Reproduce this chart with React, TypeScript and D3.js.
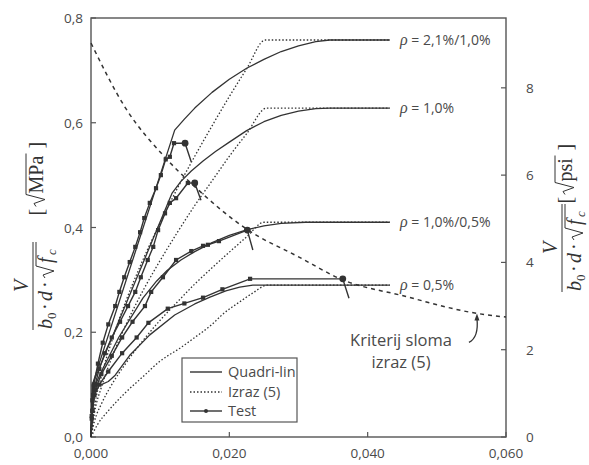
import React from "react";
import * as d3 from "d3";

type P = [number, number];

// ---------- axis ticks ----------
const xTickValues = [0, 0.02, 0.04, 0.06];
const xTickLabels = ["0,000", "0,020", "0,040", "0,060"];
const yTickValues = [0, 0.2, 0.4, 0.6, 0.8];
const yTickLabels = ["0,0", "0,2", "0,4", "0,6", "0,8"];
const yRightTickValues = [0, 2, 4, 6, 8];
const yRightTickLabels = ["0", "2", "4", "6", "8"];

// ---------- series labels ----------
const rhoLabels = ["ρ = 2,1%/1,0%", "ρ = 1,0%", "ρ = 1,0%/0,5%", "ρ = 0,5%"];
const plateauValues = [0.758, 0.628, 0.41, 0.29];

// ---------- Quadri-lin (solid) ----------
const quadA: P[] = [[0, 0], [0.0002, 0.1], [0.0121, 0.586], [0.0135, 0.607], [0.015, 0.628], [0.0175, 0.658], [0.02, 0.683], [0.0225, 0.704], [0.025, 0.721], [0.0275, 0.736], [0.03, 0.747], [0.0325, 0.755], [0.0345, 0.758], [0.0432, 0.758]];
const quadB: P[] = [[0, 0], [0.0002, 0.1], [0.0117, 0.465], [0.013, 0.488], [0.0145, 0.508], [0.0162, 0.527], [0.018, 0.545], [0.02, 0.563], [0.0225, 0.585], [0.025, 0.602], [0.0275, 0.614], [0.03, 0.622], [0.0325, 0.627], [0.0345, 0.628], [0.0432, 0.628]];
const quadC: P[] = [[0, 0], [0.0003, 0.09], [0.0015, 0.125], [0.004, 0.19], [0.0075, 0.265], [0.0095, 0.298], [0.011, 0.318], [0.013, 0.338], [0.015, 0.354], [0.0175, 0.371], [0.02, 0.385], [0.0226, 0.396], [0.025, 0.403], [0.0275, 0.408], [0.031, 0.41], [0.0432, 0.41]];
const quadD: P[] = [[0, 0], [0.0004, 0.085], [0.0008, 0.097], [0.0015, 0.1], [0.0025, 0.106], [0.0035, 0.118], [0.0056, 0.156], [0.0085, 0.195], [0.0121, 0.233], [0.015, 0.254], [0.0172, 0.267], [0.0195, 0.279], [0.0215, 0.286], [0.0234, 0.29], [0.0432, 0.29]];

// ---------- Izraz (5) (dotted) ----------
const izrazA: P[] = [[0, 0], [0.0005, 0.056], [0.0015, 0.116], [0.003, 0.183], [0.005, 0.258], [0.0075, 0.338], [0.01, 0.409], [0.0125, 0.475], [0.015, 0.536], [0.0175, 0.594], [0.02, 0.65], [0.0225, 0.703], [0.0252, 0.758], [0.0432, 0.758]];
const izrazB: P[] = [[0, 0], [0.0005, 0.046], [0.0015, 0.095], [0.003, 0.151], [0.005, 0.213], [0.0075, 0.279], [0.01, 0.337], [0.0125, 0.391], [0.015, 0.442], [0.0175, 0.489], [0.02, 0.536], [0.0225, 0.579], [0.0254, 0.628], [0.0432, 0.628]];
const izrazC: P[] = [[0, 0], [0.0005, 0.03], [0.0015, 0.063], [0.003, 0.1], [0.005, 0.14], [0.0075, 0.184], [0.01, 0.223], [0.0125, 0.258], [0.015, 0.292], [0.0175, 0.323], [0.02, 0.353], [0.0225, 0.382], [0.025, 0.41], [0.0432, 0.41]];
const izrazD: P[] = [[0, 0], [0.001, 0.025], [0.0025, 0.05], [0.005, 0.085], [0.0075, 0.115], [0.01, 0.145], [0.0129, 0.17], [0.015, 0.19], [0.0175, 0.215], [0.0191, 0.235], [0.0215, 0.258], [0.0234, 0.275], [0.0255, 0.29], [0.0432, 0.29]];

// ---------- Test (line + markers) ----------
const testA: P[] = [[0, 0], [0.0001, 0.035], [0.0002, 0.07], [0.0004, 0.1], [0.001, 0.14], [0.0017, 0.18], [0.0025, 0.215], [0.0035, 0.25], [0.0041, 0.277], [0.0048, 0.305], [0.0056, 0.334], [0.0064, 0.363], [0.0071, 0.391], [0.0077, 0.418], [0.0085, 0.447], [0.0094, 0.475], [0.0101, 0.5], [0.0108, 0.53], [0.0114, 0.535], [0.012, 0.561]];
const testB: P[] = [[0, 0], [0.0001, 0.04], [0.0003, 0.08], [0.0006, 0.1], [0.0012, 0.13], [0.002, 0.16], [0.003, 0.19], [0.0042, 0.22], [0.00535, 0.25], [0.0064, 0.277], [0.0072, 0.305], [0.0082, 0.338], [0.009, 0.363], [0.0097, 0.395], [0.0107, 0.427], [0.0114, 0.447], [0.0123, 0.456], [0.014, 0.485]];
const testC: P[] = [[0, 0], [0.0002, 0.05], [0.0006, 0.09], [0.0015, 0.12], [0.003, 0.155], [0.0045, 0.19], [0.006, 0.22], [0.0078, 0.25], [0.0087, 0.277], [0.0104, 0.305], [0.0123, 0.338], [0.0145, 0.355], [0.0162, 0.365], [0.0169, 0.367], [0.0185, 0.374]];
const testD: P[] = [[0, 0], [0.0002, 0.05], [0.0005, 0.08], [0.0012, 0.1], [0.0025, 0.125], [0.0045, 0.16], [0.0066, 0.19], [0.0083, 0.218], [0.0111, 0.245], [0.0135, 0.255], [0.0162, 0.266], [0.019, 0.282], [0.023, 0.302]];
const testPeaks: P[] = [[0.0136, 0.561], [0.015, 0.485], [0.0226, 0.395], [0.0364, 0.302]];
const testDrops: P[] = [[0.0145, 0.525], [0.0159, 0.452], [0.0234, 0.357], [0.0373, 0.265]];

// ---------- failure criterion (dashed) ----------
const criterion: P[] = [[0, 0.752], [0.005, 0.628], [0.0107, 0.534], [0.015, 0.478], [0.0226, 0.396], [0.03, 0.344], [0.0364, 0.3], [0.045, 0.27], [0.0558, 0.236], [0.06, 0.229]];
const criterionArrowAt: P = [0.0558, 0.236];

const W = 589;
const H = 465;
const INK = "#333";
const TXT = "#4a4a4a";
const SANS = "'Open Sans', 'Noto Sans', sans-serif";
const SERIF = "'Liberation Serif', 'DejaVu Serif', serif";

function Radical({ x0, x1, base, top }: { x0: number; x1: number; base: number; top: number }) {
  const d = `M${x0},${base - 7} L${x0 + 3},${base - 9} L${x0 + 7},${base + 2} L${x0 + 12},${top} L${x1},${top}`;
  return <path d={d} fill="none" stroke={INK} strokeWidth={1} />;
}

function AxisTitle({ tx, ty, fracC, brC, unit, unitW }: { tx: number; ty: number; fracC: number; brC: number; unit: string; unitW: number }) {
  const fs = 20;
  const s = fracC - 44;
  const total = 33 + unitW;
  const b0 = brC - total / 2;
  return (
    <g transform={`translate(${tx},${ty}) rotate(-90)`} fill={INK} fontFamily={SERIF}>
      <text x={fracC} y={-5} textAnchor="middle" fontStyle="italic" fontSize={fs}>V</text>
      <line x1={s} x2={s + 88} y1={0} y2={0} stroke={INK} strokeWidth={1} />
      <text x={s + 1} y={19} fontStyle="italic" fontSize={fs}>b</text>
      <text x={s + 11} y={23} fontSize={13}>0</text>
      <text x={s + 20} y={19} fontSize={fs}>·</text>
      <text x={s + 29} y={19} fontStyle="italic" fontSize={fs}>d</text>
      <text x={s + 42} y={19} fontSize={fs}>·</text>
      <Radical x0={s + 52} x1={s + 88} base={19} top={3} />
      <text x={s + 67} y={19} fontStyle="italic" fontSize={fs}>f</text>
      <text x={s + 75} y={23} fontStyle="italic" fontSize={13}>c</text>
      <text x={b0} y={10} fontSize={fs}>[</text>
      <Radical x0={b0 + 9} x1={b0 + 24 + unitW} base={10} top={-7} />
      <text x={b0 + 22} y={10} fontSize={fs}>{unit}</text>
      <text x={b0 + 29 + unitW} y={10} fontSize={fs}>]</text>
    </g>
  );
}

export default function App() {
  const x = d3.scaleLinear().domain([0, 0.06]).range([91, 506]);
  const y = d3.scaleLinear().domain([0, 0.8]).range([437, 18]);
  const yR = d3.scaleLinear().domain([0, 9.6]).range([437, 18]);

  const smooth = d3.line<P>().x((d) => x(d[0])).y((d) => y(d[1])).curve(d3.curveMonotoneX);
  const straight = d3.line<P>().x((d) => x(d[0])).y((d) => y(d[1]));

  const quads = [quadA, quadB, quadC, quadD];
  const izraz = [izrazA, izrazB, izrazC, izrazD];
  const tests = [testA, testB, testC, testD];

  const tip = [x(criterionArrowAt[0]), y(criterionArrowAt[1])];

  return (
    <svg width={W} height={H} style={{ position: "absolute", left: 0, top: 0, background: "#fff" }}>
      {/* frame */}
      <rect x={x(0)} y={y(0.8)} width={x(0.06) - x(0)} height={y(0) - y(0.8)} fill="none" stroke="#555" strokeWidth={1.4} />

      {/* ticks */}
      {xTickValues.map((v, i) => (
        <g key={"xt" + i}>
          <line x1={x(v)} x2={x(v)} y1={y(0)} y2={y(0) - 5} stroke="#555" strokeWidth={1.2} />
          <text x={x(v)} y={y(0) + 21} textAnchor="middle" fontFamily={SANS} fontSize={13.5} fill={TXT}>{xTickLabels[i]}</text>
        </g>
      ))}
      {yTickValues.map((v, i) => (
        <g key={"yt" + i}>
          <line x1={x(0)} x2={x(0) + 5} y1={y(v)} y2={y(v)} stroke="#555" strokeWidth={1.2} />
          <text x={x(0) - 8} y={y(v) + 5} textAnchor="end" fontFamily={SANS} fontSize={13.5} fill={TXT}>{yTickLabels[i]}</text>
        </g>
      ))}
      {yRightTickValues.map((v, i) => (
        <g key={"yr" + i}>
          <line x1={x(0.06)} x2={x(0.06) - 5} y1={yR(v)} y2={yR(v)} stroke="#555" strokeWidth={1.2} />
          <text x={x(0.06) + 20} y={yR(v) + 5} textAnchor="start" fontFamily={SANS} fontSize={13.5} fill={TXT}>{yRightTickLabels[i]}</text>
        </g>
      ))}

      {/* axis titles */}
      <AxisTitle tx={33} ty={228} fracC={-58} brC={48} unit="MPa" unitW={38} />
      <AxisTitle tx={562} ty={228} fracC={-20} brC={53} unit="psi" unitW={24} />

      {/* failure criterion */}
      <path d={smooth(criterion) || ""} fill="none" stroke={INK} strokeWidth={1.5} strokeDasharray="4,4" />

      {/* Izraz (5) */}
      {izraz.map((s, i) => (
        <path key={"iz" + i} d={smooth(s) || ""} fill="none" stroke={INK} strokeWidth={1.3} strokeDasharray="1.5,2" />
      ))}

      {/* Quadri-lin */}
      {quads.map((s, i) => (
        <path key={"q" + i} d={straight(s) || ""} fill="none" stroke={INK} strokeWidth={1.3} strokeLinejoin="round" />
      ))}

      {/* Test */}
      {tests.map((s, i) => {
        const pts = [...s, testPeaks[i], testDrops[i]];
        return (
          <g key={"t" + i}>
            <path d={straight(pts) || ""} fill="none" stroke={INK} strokeWidth={1.4} />
            {s.slice(1).map((p, j) => (
              <rect key={j} x={x(p[0]) - 2.1} y={y(p[1]) - 2.1} width={4.2} height={4.2} fill={INK} />
            ))}
            <circle cx={x(testPeaks[i][0])} cy={y(testPeaks[i][1])} r={3.4} fill={INK} />
          </g>
        );
      })}

      {/* rho labels */}
      {rhoLabels.map((t, i) => (
        <text key={"rl" + i} x={400} y={y(plateauValues[i]) + 5} fontFamily={SANS} fontSize={14} fill={TXT}>
          <tspan fontFamily={SERIF} fontStyle="italic" fontSize={16}>ρ</tspan>
          {t.slice(1)}
        </text>
      ))}

      {/* criterion annotation */}
      <text x={401} y={346} textAnchor="middle" fontFamily={SANS} fontSize={16.5} fill={TXT}>Kriterij sloma</text>
      <text x={401} y={368} textAnchor="middle" fontFamily={SANS} fontSize={16.5} fill={TXT}>izraz (5)</text>
      <path d={`M${tip[0] - 8},${tip[1] + 29} Q${tip[0] + 2},${tip[1] + 24} ${tip[0]},${tip[1] + 5}`} fill="none" stroke={INK} strokeWidth={1.3} />
      <path d={`M${tip[0]},${tip[1]} L${tip[0] - 2.5},${tip[1] + 7} L${tip[0] + 2.5},${tip[1] + 7} Z`} fill={INK} />

      {/* legend */}
      <rect x={182} y={358} width={115} height={64} fill="#fff" stroke="#555" strokeWidth={1.2} />
      <line x1={190} x2={222} y1={372} y2={372} stroke={INK} strokeWidth={1.4} />
      <text x={228} y={377} fontFamily={SANS} fontSize={14.5} fill={TXT}>Quadri-lin</text>
      <line x1={190} x2={222} y1={392} y2={392} stroke={INK} strokeWidth={1.3} strokeDasharray="1.5,2" />
      <text x={228} y={397} fontFamily={SANS} fontSize={14.5} fill={TXT}>Izraz (5)</text>
      <line x1={190} x2={222} y1={411} y2={411} stroke={INK} strokeWidth={1.4} />
      <circle cx={206} cy={411} r={2} fill={INK} />
      <text x={228} y={416} fontFamily={SANS} fontSize={14.5} fill={TXT}>Test</text>
    </svg>
  );
}
